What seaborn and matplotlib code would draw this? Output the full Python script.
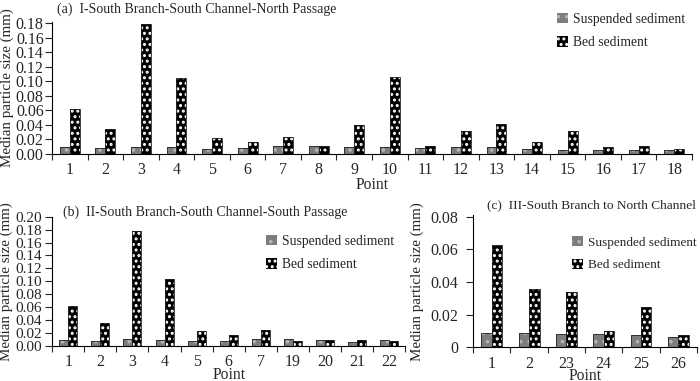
import numpy as np
import pandas as pd
import matplotlib
matplotlib.use('Agg')
import matplotlib.pyplot as plt
from matplotlib.patches import Patch
import seaborn as sns

# ── Data ──────────────────────────────────────────────────────────────────────
points_a    = ['1', '2', '3', '4', '5', '6', '7', '8', '9', '10', '11', '12', '13', '14', '15', '16', '17', '18']
suspended_a = [0.009, 0.008, 0.010, 0.0095, 0.0073, 0.008, 0.0105, 0.011, 0.009, 0.0096,
               0.008, 0.010, 0.009, 0.007, 0.006, 0.006, 0.005, 0.006]
bed_a       = [0.062, 0.035, 0.178, 0.104, 0.022, 0.017, 0.024, 0.011, 0.040, 0.106,
               0.011, 0.031, 0.041, 0.016, 0.031, 0.009, 0.011, 0.007]

points_b    = ['1', '2', '3', '4', '5', '6', '7', '19', '20', '21', '22']
suspended_b = [0.009, 0.008, 0.010, 0.0095, 0.0073, 0.008, 0.0105, 0.0103, 0.0088, 0.006, 0.0093]
bed_b       = [0.062, 0.035, 0.178, 0.104, 0.022, 0.017, 0.024, 0.0078, 0.0095, 0.0085, 0.0067]

points_c    = ['1', '2', '23', '24', '25', '26']
suspended_c = [0.0089, 0.0085, 0.008, 0.008, 0.0077, 0.006]
bed_c       = [0.0626, 0.0355, 0.0337, 0.0098, 0.0245, 0.0075]

titles = ['(a)  I-South Branch-South Channel-North Passage',
          '(b)  II-South Branch-South Channel-South Passage',
          '(c)  III-South Branch to North Channel']
series_names = ['Suspended sediment', 'Bed sediment']

# ── Style ─────────────────────────────────────────────────────────────────────
sns.set_style('ticks')
plt.rcParams['font.family'] = ['Liberation Serif', 'DejaVu Serif']
plt.rcParams['hatch.linewidth'] = 1.4

# hatch colour follows the edge colour here (no separate hatchcolor in this mpl)
SUSP = dict(facecolor='#7d7d7d', edgecolor='#b4b4b4', hatch='..')
BED  = dict(facecolor='#000000', edgecolor='white', hatch='...')


def make_df(points, susp, bed):
    return pd.DataFrame({
        'Point': points * 2,
        'value': list(susp) + list(bed),
        'type':  [series_names[0]] * len(points) + [series_names[1]] * len(points),
    })


def style_bars(ax):
    for cont, spec in zip(ax.containers, [SUSP, BED]):
        for p in cont:
            p.set_facecolor(spec['facecolor'])
            p.set_edgecolor(spec['edgecolor'])
            p.set_hatch(spec['hatch'])
            p.set_linewidth(0)
            # thin dark outline drawn on top
            x, y = p.get_xy()
            ax.add_patch(plt.Rectangle((x, y), p.get_width(), p.get_height(),
                                       fill=False, edgecolor='#222222', linewidth=0.6))


def legend_handles():
    return [Patch(label=n, linewidth=0, **spec) for n, spec in zip(series_names, [SUSP, BED])]


def draw_panel(ax, points, susp, bed, ylim, yticks, yfmt, ylab_x, ypad=1, yfs=11.5, xlpad=-1):
    df = make_df(points, susp, bed)
    sns.barplot(data=df, x='Point', y='value', hue='type', order=points,
                hue_order=series_names, width=0.56, gap=0, ax=ax,
                legend=False, dodge=True)
    style_bars(ax)
    ax.set_ylim(*ylim)
    ax.set_xlim(-0.5, len(points) - 0.5)
    ax.set_yticks(yticks)
    ax.set_yticklabels([yfmt(v) for v in yticks], fontsize=yfs)
    # ticks between categories on x axis
    ax.set_xticks(np.arange(len(points)))
    ax.set_xticklabels(points, fontsize=11.5)
    ax.tick_params(axis='x', length=0, pad=6)
    ax.set_xticks(np.arange(len(points) + 1) - 0.5, minor=True)
    ax.tick_params(axis='x', which='minor', length=4, width=0.8, direction='out')
    ax.tick_params(axis='y', length=5, width=0.8, pad=ypad, direction='out')
    sns.despine(ax=ax)
    for s in ['left', 'bottom']:
        ax.spines[s].set_linewidth(0.8)
        ax.spines[s].set_color('black')
    ax.set_xlabel('Point', fontsize=11.2, labelpad=xlpad)
    ax.set_ylabel('Median particle size (mm)', fontsize=10.8)
    ax.yaxis.set_label_coords(ylab_x, 0.5)


fig = plt.figure(figsize=(7, 3.81), dpi=100)
ax_a = fig.add_axes([0.0743, 0.5958, 0.9143, 0.3472])
ax_b = fig.add_axes([0.0747, 0.0927, 0.5039, 0.3385])
ax_c = fig.add_axes([0.676, 0.0885, 0.3197, 0.3472])

draw_panel(ax_a, points_a, suspended_a, bed_a, (0, 0.1818),
           np.arange(0, 0.181, 0.02), lambda v: f'{v:.2f}', -0.060)
draw_panel(ax_b, points_b, suspended_b, bed_b, (0, 0.2),
           np.arange(0, 0.201, 0.02), lambda v: f'{v:.2f}', -0.112, ypad=2.5, yfs=11, xlpad=-2.5)
draw_panel(ax_c, points_c, suspended_c, bed_c, (0, 0.081),
           np.arange(0, 0.081, 0.02), lambda v: '0' if v == 0 else f'{v:.2f}', -0.218, ypad=6, xlpad=-2.5)

leg_kw = dict(frameon=False, handlelength=0.8, handleheight=0.8,
              handletextpad=0.4, labelspacing=0.75, borderaxespad=0, borderpad=0,
              loc='upper left', bbox_transform=fig.transFigure)
ax_a.legend(handles=legend_handles(), bbox_to_anchor=(557 / 700, 1 - 13 / 381), fontsize=9.8, **leg_kw)
ax_b.legend(handles=legend_handles(), bbox_to_anchor=(266 / 700, 1 - 235 / 381), fontsize=9.8, **leg_kw)
ax_c.legend(handles=legend_handles(), bbox_to_anchor=(572 / 700, 1 - 236 / 381), fontsize=9.5, **leg_kw)

fig.text(57 / 700, 1 - 9 / 381, titles[0], fontsize=10, va='center', ha='left')
fig.text(63 / 700, 1 - 212 / 381, titles[1], fontsize=10, va='center', ha='left')
fig.text(487 / 700, 1 - 205 / 381, titles[2], fontsize=9.6, va='center', ha='left')

fig.savefig('out.png', dpi=100)
